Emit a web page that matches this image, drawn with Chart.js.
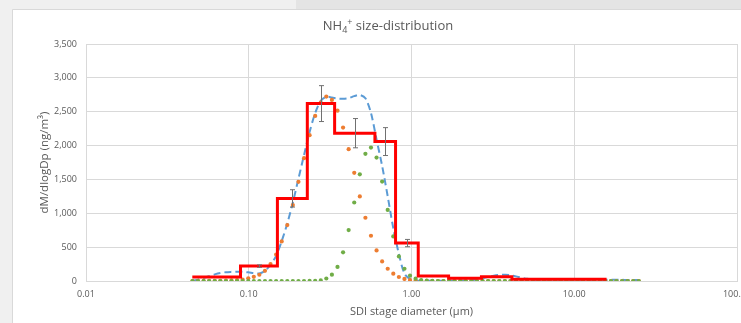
<!DOCTYPE html>
<html>
<head>
<meta charset="utf-8">
<script src="https://cdn.jsdelivr.net/npm/chart.js@4/dist/chart.umd.min.js"></script>
<style>
  html, body { margin: 0; padding: 0; background: #f0f0f0; }
  #wrap { position: relative; width: 741px; height: 323px; }
</style>
</head>
<body>
<div id="wrap"><canvas id="chart" width="741" height="323"></canvas></div>
<script>
// SDI impactor stages: lower/upper cut diameters (µm) and measured NH4+ dM/dlogDp
const stageEdges = [0.045, 0.089, 0.15, 0.229, 0.337, 0.596, 0.798, 1.10, 1.69, 2.69, 4.14, 15.8];
const stageValues = [60, 220, 1220, 2620, 2183, 2059, 560, 72, 40, 62, 25];
const stageErrors = [0, 18, 128, 265, 216, 206, 54, 0, 0, 0, 0];

// Fitted size-distribution curves on a common diameter grid (µm)
const fitDiameters = [
  0.0451, 0.0488, 0.0528, 0.0571, 0.0618, 0.0669, 0.0724, 0.0783, 0.0848, 0.0917,
  0.0993, 0.1074, 0.1162, 0.1258, 0.1361, 0.1473, 0.1594, 0.1725, 0.1866, 0.2020,
  0.2186, 0.2365, 0.2560, 0.2770, 0.2997, 0.3243, 0.3510, 0.3798, 0.4110, 0.4448,
  0.4813, 0.5209, 0.5636, 0.6099, 0.6600, 0.7142, 0.7729, 0.8364, 0.9051, 0.9793,
  1.0597, 1.1468, 1.2410, 1.3428, 1.4532, 1.5725, 1.7017, 1.8415, 1.9927, 2.1564,
  2.3335, 2.5252, 2.7326, 2.9570, 3.1999, 3.4628, 3.7472, 4.0551, 4.3881, 4.7486,
  5.1387, 5.5608, 6.0176, 6.5119, 7.0468, 7.6257, 8.2521, 8.9299, 9.6635, 10.457,
  11.316, 12.246, 13.252, 14.340, 15.518, 16.793, 18.172, 19.665, 21.281, 23.029,
  24.921
];
const fitTotal = [
  5, 20, 45, 72, 98, 118, 130, 135, 138, 135,
  128, 118, 112, 150, 240, 370, 590, 850, 1160, 1510,
  1860, 2200, 2480, 2660, 2720, 2710, 2695, 2690, 2700, 2730,
  2748, 2700, 2480, 2090, 1700, 1250, 780, 400, 110, 30,
  8, 3, 2, 2, 2, 3, 4, 5, 6, 8,
  12, 22, 40, 60, 78, 90, 93, 86, 68, 48,
  32, 22, 18, 17, 17, 17, 17, 17, 17, 17,
  17, 17, 17, 17, 17, 17, 17, 17, 16, 16,
  16
];
const fitMode1 = [
  0, 0, 1, 1, 2, 3, 5, 8, 13, 22,
  40, 62, 92, 150, 250, 390, 584, 826, 1121, 1465,
  1814, 2154, 2438, 2634, 2723, 2674, 2516, 2266, 1947, 1597,
  1249, 934, 668, 451, 289, 181, 108, 59, 30, 14,
  6, 3, 1, 0, 0, 0, 0, 0, 0, 0,
  0, 0, 0, 0, 0, 0, 0, 0, 0, 0,
  0, 0, 0, 0, 0, 0, 0, 0, 0, 0,
  0, 0, 0, 0, 0, 0, 0, 0, 0, 0,
  0
];
const fitMode2 = [
  0, 0, 0, 0, 0, 0, 0, 0, 0, 0,
  0, 0, 0, 0, 0, 0, 0, 0, 0, 0,
  0, 1, 3, 9, 37, 93, 208, 423, 752, 1159,
  1575, 1878, 1970, 1823, 1469, 1049, 658, 363, 181, 78,
  34, 15, 6, 2, 0, 0, 0, 0, 0, 0,
  0, 0, 0, 0, 0, 0, 0, 0, 0, 0,
  0, 0, 0, 0, 0, 0, 0, 0, 0, 0,
  0, 0, 0, 0, 0, 0, 0, 0, 0, 0,
  0
];

const xTickValues = [0.01, 0.1, 1, 10, 100];
const xTickLabels = ['0.01', '0.10', '1.00', '10.00', '100.00'];

const textColor = '#595959';
const gridColor = '#d9d9d9';
const fontFamily = "'Open Sans', 'Liberation Sans', sans-serif";

// step outline: each stage's value held from its lower to its upper cut
const stepPoints = stageValues.map((v, i) => ({ x: stageEdges[i], y: v }));
stepPoints.push({ x: stageEdges[stageEdges.length - 1], y: stageValues[stageValues.length - 1] });

const curve = (ys) => fitDiameters.map((d, i) => ({ x: d, y: ys[i] }));

const panelBackground = {
  id: 'panelBackground',
  beforeDraw(chart) {
    const ctx = chart.ctx;
    const w = chart.width, h = chart.height;
    ctx.save();
    ctx.fillStyle = '#f0f0f0';
    ctx.fillRect(0, 0, w, h);
    ctx.fillStyle = '#e4e4e4';
    ctx.fillRect(296, 0, w - 296, 10);
    ctx.fillStyle = '#ffffff';
    ctx.fillRect(13, 10, w - 13, h - 10);
    ctx.strokeStyle = '#d9d9d9';
    ctx.lineWidth = 1;
    ctx.beginPath();
    ctx.moveTo(12.5, h);
    ctx.lineTo(12.5, 9.5);
    ctx.lineTo(w, 9.5);
    ctx.stroke();
    ctx.restore();
  }
};

const chartTitle = {
  id: 'chartTitle',
  afterDraw(chart) {
    const ctx = chart.ctx;
    const parts = [
      { t: 'NH', size: 13, dy: 0 },
      { t: '4', size: 9, dy: 3 },
      { t: '+', size: 9, dy: -5 },
      { t: ' size-distribution', size: 13, dy: 0 }
    ];
    ctx.save();
    ctx.fillStyle = textColor;
    ctx.textBaseline = 'alphabetic';
    let total = 0;
    parts.forEach(p => { ctx.font = p.size + 'px ' + fontFamily; p.w = ctx.measureText(p.t).width; total += p.w; });
    let x = 388 - total / 2;
    const base = 29.5;
    parts.forEach(p => {
      ctx.font = p.size + 'px ' + fontFamily;
      ctx.fillText(p.t, x, base + p.dy);
      x += p.w;
    });
    ctx.restore();
  }
};

const stageErrorBars = {
  id: 'stageErrorBars',
  afterDatasetsDraw(chart) {
    const ctx = chart.ctx;
    const xs = chart.scales.x, ys = chart.scales.y;
    ctx.save();
    ctx.strokeStyle = '#707070';
    ctx.lineWidth = 1;
    stageErrors.forEach((e, i) => {
      if (!e) return;
      const mid = Math.sqrt(stageEdges[i] * stageEdges[i + 1]);
      const px = Math.round(xs.getPixelForValue(mid)) + 0.5;
      const top = ys.getPixelForValue(stageValues[i] + e);
      const bot = ys.getPixelForValue(stageValues[i] - e);
      ctx.beginPath();
      ctx.moveTo(px, top); ctx.lineTo(px, bot);
      ctx.moveTo(px - 2.5, top); ctx.lineTo(px + 2.5, top);
      ctx.moveTo(px - 2.5, bot); ctx.lineTo(px + 2.5, bot);
      ctx.stroke();
    });
    ctx.restore();
  }
};

new Chart(document.getElementById('chart'), {
  type: 'line',
  data: {
    datasets: [
      {
        label: 'SDI stages',
        data: stepPoints,
        stepped: 'before',
        borderColor: '#ff0000',
        borderWidth: 3,
        pointRadius: 0,
        fill: false
      },
      {
        label: 'Mode 2',
        data: curve(fitMode2),
        showLine: false,
        pointRadius: 2.1,
        pointBorderWidth: 0,
        pointBackgroundColor: '#70ad47',
        borderColor: '#70ad47'
      },
      {
        label: 'Mode 1',
        data: curve(fitMode1),
        showLine: false,
        pointRadius: 2.1,
        pointBorderWidth: 0,
        pointBackgroundColor: '#ed7d31',
        borderColor: '#ed7d31'
      },
      {
        label: 'Fit total',
        data: curve(fitTotal),
        borderColor: '#5b9bd5',
        borderWidth: 2,
        borderDash: [7, 4],
        pointRadius: 0,
        tension: 0.3,
        fill: false
      }
    ]
  },
  options: {
    responsive: false,
    animation: false,
    devicePixelRatio: 1,
    layout: { padding: { top: 44, right: 4, left: 0, bottom: 0 } },
    plugins: {
      legend: { display: false },
      title: { display: false },
      tooltip: { enabled: false }
    },
    scales: {
      x: {
        type: 'logarithmic',
        min: 0.01,
        max: 100,
        afterBuildTicks(scale) {
          scale.ticks = xTickValues.map(v => ({ value: v, major: true }));
        },
        afterFit(scale) {
          scale.height = 42;
          scale.paddingLeft = 0;
          scale.paddingRight = 0;
        },
        ticks: {
          autoSkip: false,
          maxRotation: 0,
          padding: 8,
          color: textColor,
          font: { family: fontFamily, size: 9 },
          callback(value) {
            const k = xTickValues.indexOf(value);
            return k >= 0 ? xTickLabels[k] : '';
          }
        },
        grid: { color: gridColor, lineWidth: 1, drawTicks: false },
        border: { color: gridColor, width: 1 },
        title: {
          display: true,
          text: 'SDI stage diameter (µm)',
          color: textColor,
          font: { family: fontFamily, size: 11 },
          padding: { top: 0, bottom: 4.5 }
        }
      },
      y: {
        min: 0,
        max: 3500,
        afterFit(scale) {
          scale.width = 86;
          scale.paddingTop = 0;
          scale.paddingBottom = 0;
        },
        ticks: {
          stepSize: 500,
          padding: 9,
          color: textColor,
          font: { family: fontFamily, size: 9 },
          callback(value) { return value.toLocaleString('en-US'); }
        },
        grid: { color: gridColor, lineWidth: 1, drawTicks: false },
        border: { display: false },
        title: {
          display: true,
          text: 'dM/dlogDp (ng/m³)',
          color: textColor,
          font: { family: fontFamily, size: 11.5 },
          padding: { top: 38, bottom: 0 }
        }
      }
    }
  },
  plugins: [panelBackground, chartTitle, stageErrorBars]
});
</script>
</body>
</html>
